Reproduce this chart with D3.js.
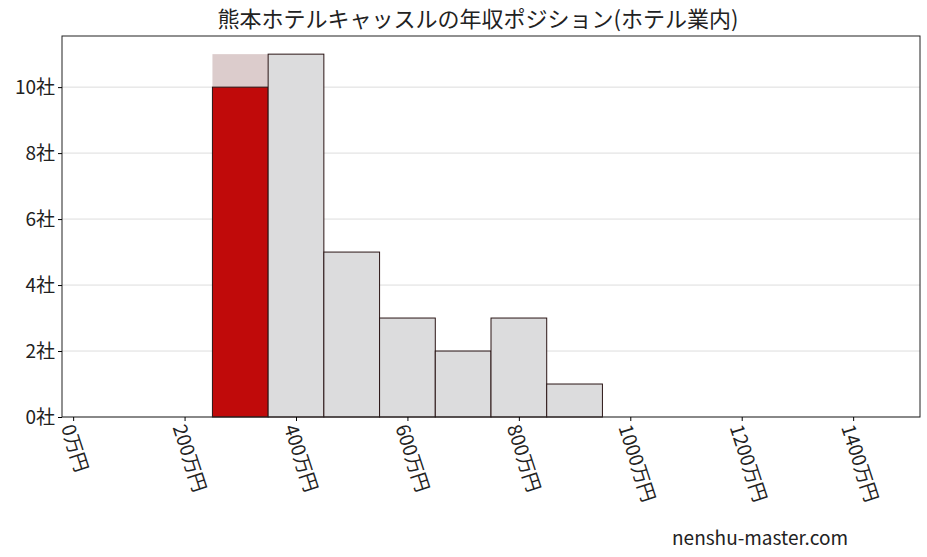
<!DOCTYPE html>
<html><head><meta charset="utf-8">
<script src="https://cdn.jsdelivr.net/npm/d3@7"></script>
<style>body{margin:0;background:#fff}text{font-family:"Noto Sans CJK JP",sans-serif}</style>
</head><body><svg id="chart" width="927" height="557"></svg>
<script>
const binStart = [250, 350, 450, 550, 650, 750, 850];
const counts = [10, 11, 5, 3, 2, 3, 1];
const highlight = 0;       // index of this company's bin
const highlightTop = 11;   // pale band above the red bar
const xTicks = [0, 200, 400, 600, 800, 1000, 1200, 1400];
const yTicks = [0, 2, 4, 6, 8, 10];

const svg = d3.select("#chart"),
  margin = { top: 36, right: 7, bottom: 140, left: 62 },
  width = 927 - margin.left - margin.right,
  height = 557 - margin.top - margin.bottom;

const x = d3.scaleLinear().domain([-20, 1520]).range([0, width]);
const y = d3.scaleLinear().domain([0, 11.55]).range([height, 0]);

const g = svg.append("g").attr("transform", "translate(" + margin.left + "," + margin.top + ")");

g.selectAll(".grid").data(yTicks).enter().append("line")
  .attr("x1", 0).attr("x2", width)
  .attr("y1", d => y(d)).attr("y2", d => y(d))
  .attr("stroke", "#dddddd");

g.append("rect")
  .attr("x", x(binStart[highlight])).attr("width", x(binStart[highlight] + 100) - x(binStart[highlight]))
  .attr("y", y(highlightTop)).attr("height", y(counts[highlight]) - y(highlightTop))
  .attr("fill", "#dccccc");

g.selectAll(".bar").data(binStart).enter().append("rect")
  .attr("x", d => x(d)).attr("width", d => x(d + 100) - x(d))
  .attr("y", (d, i) => y(counts[i])).attr("height", (d, i) => height - y(counts[i]))
  .attr("fill", (d, i) => i === highlight ? "#c00a0a" : "#dcdcdd")
  .attr("stroke", "#2a1515").attr("stroke-width", 1);

g.append("rect").attr("width", width).attr("height", height)
  .attr("fill", "none").attr("stroke", "#222");

const ya = g.append("g").call(d3.axisLeft(y).tickValues(yTicks).tickFormat(d => d + "社").tickSize(4));
ya.select(".domain").remove();
ya.selectAll("text").attr("font-size", 19).attr("fill", "#222");

const xa = g.append("g").attr("transform", "translate(0," + height + ")")
  .call(d3.axisBottom(x).tickValues(xTicks).tickFormat(d => d + "万円").tickSize(4));
xa.select(".domain").remove();
xa.selectAll("text").attr("font-size", 19).attr("fill", "#222")
  .attr("text-anchor", "start").attr("dy", 0)
  .attr("transform", "translate(-6,8) rotate(72)");

svg.append("text").attr("x", 478).attr("y", 27).attr("text-anchor", "middle")
  .attr("font-size", 22).attr("fill", "#222")
  .text("熊本ホテルキャッスルの年収ポジション(ホテル業内)");
svg.append("text").attr("x", 848).attr("y", 545).attr("text-anchor", "end")
  .attr("font-size", 19).attr("fill", "#222").text("nenshu-master.com");
</script></body></html>
